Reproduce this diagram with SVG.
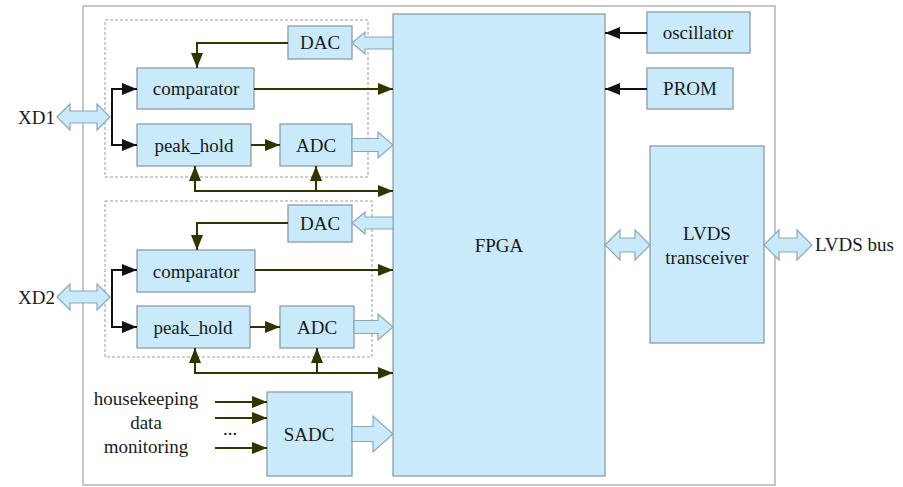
<svg xmlns="http://www.w3.org/2000/svg" width="903" height="487" viewBox="0 0 903 487" font-family="'Liberation Serif', 'DejaVu Serif', serif">
<style>
.box{fill:#c9eafa;stroke:#8c9ca8;stroke-width:1.3}
.frame{fill:none;stroke:#a8a8a8;stroke-width:1.3}
.dash{fill:none;stroke:#9a9a9a;stroke-width:1;stroke-dasharray:3,2}
.hollow{fill:#c9eafa;stroke:#8aa8bc;stroke-width:1.2}
.ln{fill:none;stroke:#333300;stroke-width:2;marker-end:url(#ah)}
.lnb{fill:none;stroke:#111;stroke-width:2}
.lnk{fill:none;stroke:#111;stroke-width:2;marker-end:url(#ahk)}
text{font-family:'Liberation Serif','DejaVu Serif',serif;font-size:19px;fill:#1a1a1a;text-anchor:middle;dominant-baseline:central}
</style>
<defs>
<marker id="ah" markerUnits="userSpaceOnUse" markerWidth="16" markerHeight="12" refX="15" refY="6" orient="auto">
<path d="M0,0 L15,6 L0,12 Z" fill="#333300"/>
</marker>
<marker id="ahk" markerUnits="userSpaceOnUse" markerWidth="16" markerHeight="12" refX="15" refY="6" orient="auto">
<path d="M0,0 L15,6 L0,12 Z" fill="#111"/>
</marker>
</defs>
<rect class="frame" x="83" y="6" width="692" height="479"/>
<rect class="dash" x="105" y="20" width="263" height="157"/>
<rect class="dash" x="105" y="201" width="267" height="156"/>

<g id="fpga"><rect class="box" x="393" y="14" width="212" height="462"/><text x="499" y="245">FPGA</text></g>
<g id="dac1"><rect class="box" x="288" y="26" width="64" height="33"/><text x="320" y="42.5">DAC</text></g>
<g id="comparator1"><rect class="box" x="137" y="68" width="117" height="41"/><text x="196" y="88.5">comparator</text></g>
<g id="peak_hold1"><rect class="box" x="137" y="124" width="114" height="42"/><text x="194" y="145">peak_hold</text></g>
<g id="adc1"><rect class="box" x="280" y="124" width="72" height="42"/><text x="316" y="145">ADC</text></g>
<g id="dac2"><rect class="box" x="288" y="205" width="64" height="37"/><text x="320" y="223.5">DAC</text></g>
<g id="comparator2"><rect class="box" x="137" y="250" width="118" height="42"/><text x="196" y="271">comparator</text></g>
<g id="peak_hold2"><rect class="box" x="137" y="306" width="113" height="42"/><text x="193" y="327">peak_hold</text></g>
<g id="adc2"><rect class="box" x="280" y="306" width="74" height="42"/><text x="317" y="327">ADC</text></g>
<g id="sadc"><rect class="box" x="267" y="392" width="85" height="84"/><text x="309" y="434">SADC</text></g>
<g id="oscillator"><rect class="box" x="647" y="12" width="103" height="41"/><text x="698" y="32.5">oscillator</text></g>
<g id="prom"><rect class="box" x="647" y="68" width="86" height="41"/><text x="690" y="88.5">PROM</text></g>
<g id="lvds"><rect class="box" x="650" y="146" width="114" height="197"/><text x="707" y="233">LVDS</text><text x="707" y="257">transceiver</text></g>
<g id="labels">
<text x="18" y="117" style="text-anchor:start">XD1</text>
<text x="18" y="297" style="text-anchor:start">XD2</text>
<text x="146" y="398">housekeeping</text>
<text x="146" y="422">data</text>
<text x="146" y="446">monitoring</text>
<text x="230" y="428">...</text>
<text x="815" y="244" style="text-anchor:start">LVDS bus</text>
</g>

<g id="connectors">
<polygon class="hollow" points="57,117 70,104 70,111 97,111 97,104 110,117 97,130 97,123 70,123 70,130"/>
<polygon class="hollow" points="57,297 70,284 70,291 97,291 97,284 110,297 97,310 97,303 70,303 70,310"/>
<polygon class="hollow" points="352,43 365,32 365,37 393,37 393,49 365,49 365,54"/>
<polygon class="hollow" points="352,223 365,212 365,217 393,217 393,229 365,229 365,234"/>
<polygon class="hollow" points="352,138.5 378,138.5 378,132 393,145 378,158 378,151.5 352,151.5"/>
<polygon class="hollow" points="354,320.5 378,320.5 378,314 393,327 378,340 378,333.5 354,333.5"/>
<polygon class="hollow" points="352,426.5 373,426.5 373,416 393,434 373,452 373,441.5 352,441.5"/>
<polygon class="hollow" points="605,245 620,230 620,238 635,238 635,230 650,245 635,260 635,252 620,252 620,260"/>
<polygon class="hollow" points="764,245 779,230 779,238 797,238 797,230 812,245 797,260 797,252 779,252 779,260"/>

<path class="ln" d="M288,43 H197 V68"/>
<path class="ln" d="M254,89 H393"/>
<path class="lnb" d="M112,89 V145"/>
<path class="lnk" d="M111,89 H137"/>
<path class="lnk" d="M111,145 H137"/>
<path class="ln" d="M251,145 H280"/>
<path class="ln" d="M194,191 H393"/>
<path class="ln" d="M195,192 V166"/>
<path class="ln" d="M316,192 V166"/>

<path class="ln" d="M288,223 H197 V250"/>
<path class="ln" d="M255,270 H393"/>
<path class="lnb" d="M112,270 V327"/>
<path class="lnk" d="M111,270 H137"/>
<path class="lnk" d="M111,327 H137"/>
<path class="ln" d="M250,327 H280"/>
<path class="ln" d="M194,373 H393"/>
<path class="ln" d="M195,374 V348"/>
<path class="ln" d="M317,374 V348"/>

<path class="ln" d="M215,402 H267"/>
<path class="ln" d="M215,418 H267"/>
<path class="ln" d="M215,448 H267"/>

<path class="lnk" d="M647,33 H605"/>
<path class="lnk" d="M647,89 H605"/>
</g>
</svg>
